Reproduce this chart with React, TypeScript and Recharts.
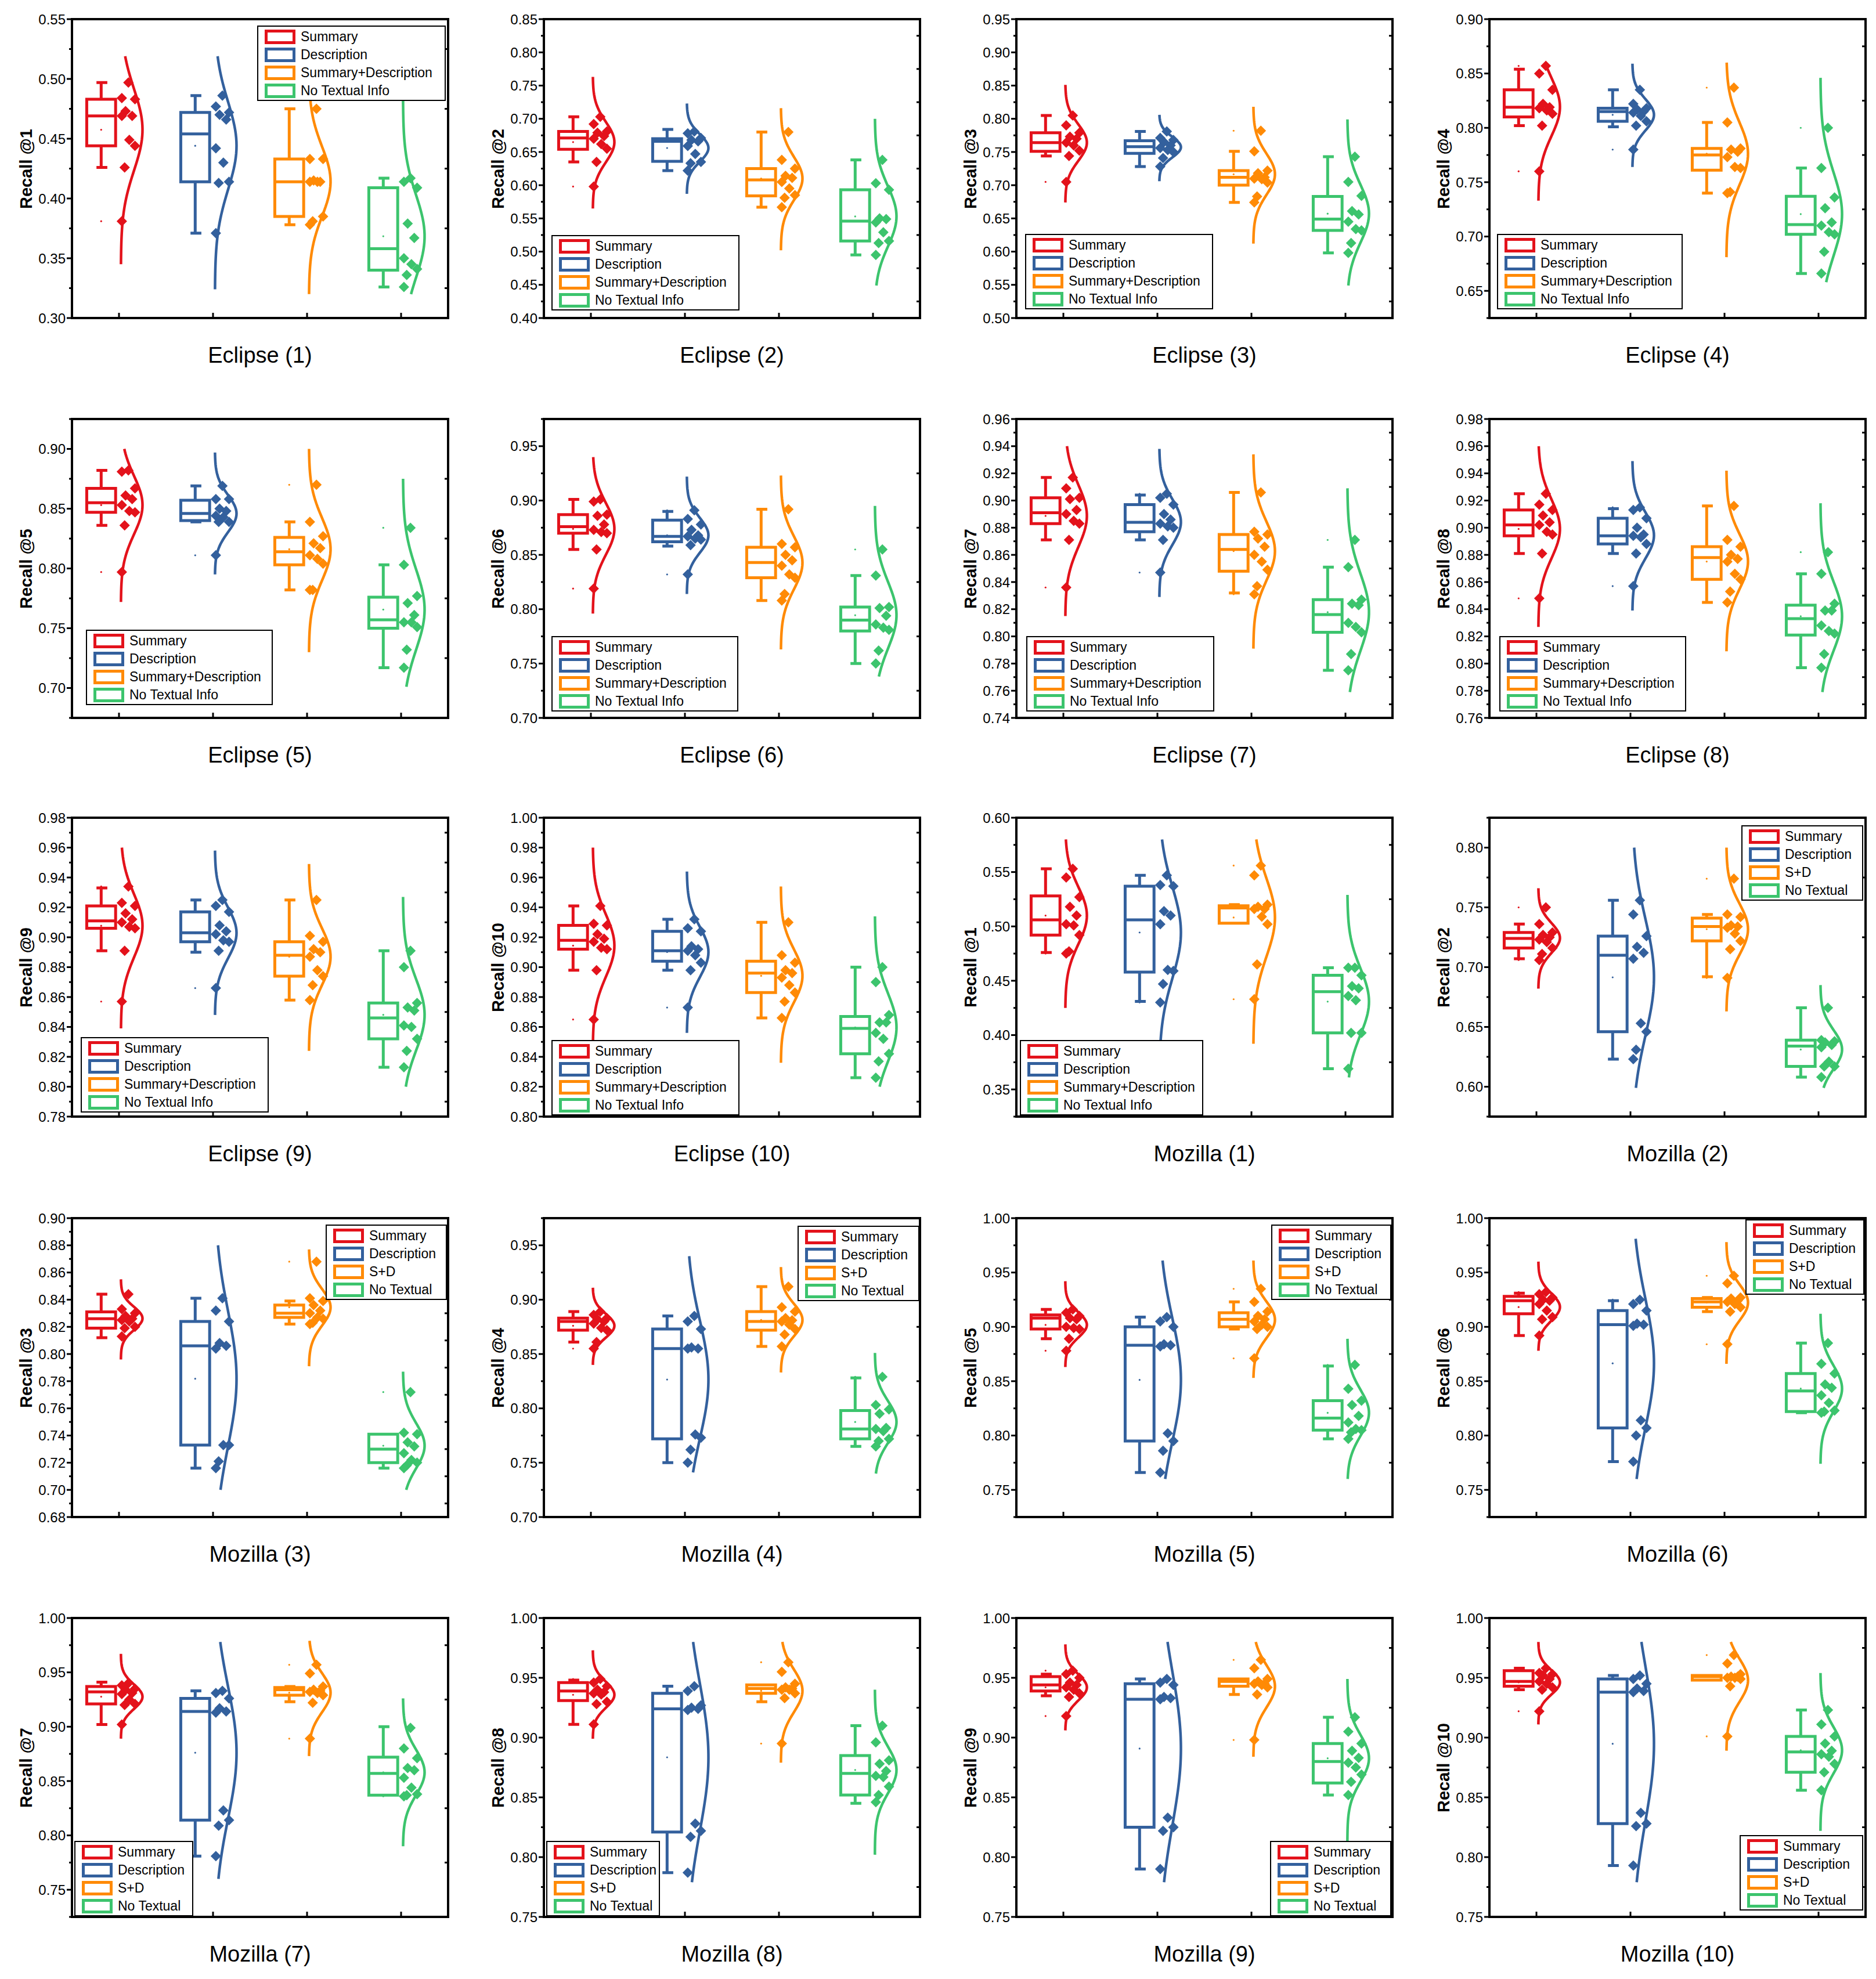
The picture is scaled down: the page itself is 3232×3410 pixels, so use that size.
import React from "react";
import { ComposedChart, Line, Scatter, XAxis, YAxis, ReferenceArea } from "recharts";

if (typeof document !== "undefined") document.body.style.margin = "0";

const FONT = '"Liberation Sans", Arial, sans-serif';
const COLORS = ["#E3121B", "#33609D", "#FF8A05", "#3CC46D"];
const NAMES_LONG = ["Summary", "Description", "Summary+Description", "No Textual Info"];
const NAMES_SHORT = ["Summary", "Description", "S+D", "No Textual"];
const CATEGORIES = [1, 2, 3, 4];

// box = [whisker low, q1, median, q3, whisker high] for Summary, Description, S+D, No Textual
// pts = the ten runs of each group, curve = [low, high] extent of the fitted distribution curve

const boxE1 = [[0.426, 0.444, 0.469, 0.483, 0.497], [0.371, 0.414, 0.454, 0.472, 0.486], [0.378, 0.385, 0.414, 0.433, 0.475], [0.326, 0.34, 0.358, 0.409, 0.417]];
const ptsE1 = [
  [0.497, 0.484, 0.483, 0.473, 0.469, 0.469, 0.449, 0.444, 0.426, 0.381],
  [0.486, 0.477, 0.472, 0.47, 0.466, 0.442, 0.43, 0.414, 0.413, 0.371],
  [0.475, 0.433, 0.433, 0.415, 0.414, 0.414, 0.414, 0.385, 0.381, 0.378],
  [0.417, 0.414, 0.409, 0.379, 0.367, 0.35, 0.345, 0.341, 0.336, 0.326],
];
const curveE1 = [[0.345, 0.519], [0.324, 0.519], [0.32, 0.52], [0.32, 0.52]];

const boxE2 = [[0.635, 0.654, 0.671, 0.681, 0.703], [0.622, 0.636, 0.666, 0.67, 0.684], [0.567, 0.584, 0.608, 0.625, 0.68], [0.495, 0.516, 0.546, 0.593, 0.638]];
const ptsE2 = [
  [0.703, 0.692, 0.681, 0.679, 0.674, 0.67, 0.662, 0.655, 0.635, 0.598],
  [0.681, 0.678, 0.671, 0.668, 0.666, 0.659, 0.647, 0.635, 0.633, 0.622],
  [0.68, 0.638, 0.625, 0.614, 0.611, 0.605, 0.595, 0.585, 0.581, 0.567],
  [0.638, 0.603, 0.593, 0.55, 0.549, 0.544, 0.529, 0.516, 0.513, 0.495],
];
const curveE2 = [[0.565, 0.763], [0.587, 0.723], [0.502, 0.716], [0.449, 0.7]];

const boxE3 = [[0.744, 0.751, 0.764, 0.779, 0.805], [0.728, 0.748, 0.758, 0.767, 0.781], [0.674, 0.7, 0.712, 0.722, 0.751], [0.598, 0.632, 0.649, 0.683, 0.743]];
const ptsE3 = [
  [0.805, 0.79, 0.779, 0.773, 0.77, 0.764, 0.76, 0.752, 0.744, 0.705],
  [0.781, 0.771, 0.768, 0.765, 0.76, 0.756, 0.753, 0.75, 0.741, 0.728],
  [0.782, 0.751, 0.722, 0.718, 0.712, 0.71, 0.709, 0.704, 0.683, 0.674],
  [0.743, 0.705, 0.684, 0.661, 0.656, 0.645, 0.634, 0.632, 0.613, 0.598],
];
const curveE3 = [[0.674, 0.851], [0.706, 0.806], [0.612, 0.818], [0.549, 0.799]];

const boxE4 = [[0.802, 0.81, 0.819, 0.835, 0.854], [0.801, 0.806, 0.815, 0.818, 0.835], [0.74, 0.761, 0.775, 0.781, 0.805], [0.666, 0.702, 0.711, 0.737, 0.763]];
const ptsE4 = [
  [0.857, 0.85, 0.835, 0.822, 0.819, 0.818, 0.816, 0.813, 0.802, 0.76],
  [0.835, 0.822, 0.818, 0.817, 0.815, 0.814, 0.811, 0.806, 0.802, 0.78],
  [0.837, 0.805, 0.781, 0.78, 0.778, 0.773, 0.764, 0.763, 0.741, 0.74],
  [0.8, 0.763, 0.736, 0.726, 0.713, 0.71, 0.704, 0.702, 0.686, 0.666],
];
const curveE4 = [[0.733, 0.86], [0.764, 0.859], [0.681, 0.86], [0.658, 0.846]];

const boxE5 = [[0.836, 0.847, 0.855, 0.867, 0.882], [0.839, 0.84, 0.846, 0.857, 0.869], [0.782, 0.803, 0.814, 0.826, 0.839], [0.717, 0.75, 0.757, 0.776, 0.803]];
const ptsE5 = [
  [0.882, 0.881, 0.867, 0.861, 0.858, 0.853, 0.848, 0.847, 0.836, 0.797],
  [0.869, 0.858, 0.858, 0.85, 0.848, 0.844, 0.843, 0.839, 0.839, 0.811],
  [0.87, 0.839, 0.827, 0.821, 0.817, 0.811, 0.808, 0.804, 0.782, 0.782],
  [0.834, 0.803, 0.777, 0.771, 0.761, 0.755, 0.755, 0.751, 0.732, 0.717],
];
const curveE5 = [[0.772, 0.9], [0.795, 0.897], [0.73, 0.9], [0.701, 0.875]];

const boxE6 = [[0.855, 0.87, 0.876, 0.887, 0.901], [0.858, 0.862, 0.867, 0.882, 0.89], [0.808, 0.829, 0.843, 0.857, 0.892], [0.75, 0.78, 0.79, 0.802, 0.831]];
const ptsE6 = [
  [0.901, 0.899, 0.887, 0.886, 0.878, 0.873, 0.871, 0.87, 0.855, 0.819],
  [0.891, 0.883, 0.878, 0.873, 0.868, 0.867, 0.865, 0.864, 0.859, 0.832],
  [0.892, 0.86, 0.857, 0.85, 0.845, 0.84, 0.832, 0.829, 0.814, 0.808],
  [0.855, 0.831, 0.802, 0.801, 0.794, 0.786, 0.783, 0.781, 0.762, 0.75],
];
const curveE6 = [[0.796, 0.94], [0.814, 0.922], [0.763, 0.923], [0.738, 0.895]];

const boxE7 = [[0.871, 0.883, 0.891, 0.902, 0.917], [0.871, 0.877, 0.884, 0.897, 0.904], [0.832, 0.848, 0.864, 0.875, 0.906], [0.775, 0.803, 0.816, 0.827, 0.851]];
const ptsE7 = [
  [0.917, 0.909, 0.902, 0.901, 0.893, 0.89, 0.885, 0.883, 0.871, 0.836],
  [0.905, 0.902, 0.897, 0.89, 0.886, 0.883, 0.881, 0.88, 0.871, 0.847],
  [0.906, 0.877, 0.875, 0.872, 0.866, 0.86, 0.855, 0.849, 0.837, 0.831],
  [0.871, 0.851, 0.827, 0.824, 0.823, 0.81, 0.807, 0.803, 0.787, 0.775],
];
const curveE7 = [[0.815, 0.94], [0.829, 0.938], [0.791, 0.934], [0.759, 0.909]];

const boxE8 = [[0.881, 0.894, 0.902, 0.913, 0.925], [0.881, 0.888, 0.894, 0.907, 0.914], [0.845, 0.862, 0.878, 0.886, 0.916], [0.797, 0.821, 0.833, 0.843, 0.866]];
const ptsE8 = [
  [0.925, 0.917, 0.913, 0.909, 0.904, 0.902, 0.897, 0.895, 0.881, 0.848],
  [0.915, 0.913, 0.907, 0.9, 0.895, 0.894, 0.893, 0.888, 0.881, 0.857],
  [0.916, 0.891, 0.886, 0.88, 0.877, 0.875, 0.866, 0.862, 0.853, 0.845],
  [0.882, 0.866, 0.844, 0.839, 0.839, 0.828, 0.824, 0.822, 0.807, 0.797],
];
const curveE8 = [[0.827, 0.96], [0.839, 0.949], [0.809, 0.942], [0.779, 0.918]];

const boxE9 = [[0.891, 0.906, 0.911, 0.921, 0.933], [0.89, 0.897, 0.903, 0.917, 0.925], [0.858, 0.874, 0.888, 0.897, 0.925], [0.813, 0.832, 0.846, 0.856, 0.891]];
const ptsE9 = [
  [0.934, 0.923, 0.921, 0.916, 0.912, 0.91, 0.907, 0.906, 0.891, 0.857],
  [0.925, 0.921, 0.917, 0.908, 0.904, 0.902, 0.898, 0.897, 0.891, 0.866],
  [0.925, 0.901, 0.897, 0.892, 0.89, 0.887, 0.878, 0.874, 0.868, 0.858],
  [0.891, 0.88, 0.856, 0.853, 0.851, 0.841, 0.84, 0.832, 0.824, 0.813],
];
const curveE9 = [[0.839, 0.96], [0.848, 0.958], [0.824, 0.949], [0.8, 0.927]];

const boxE10 = [[0.898, 0.912, 0.918, 0.928, 0.941], [0.898, 0.904, 0.911, 0.924, 0.932], [0.866, 0.883, 0.896, 0.904, 0.93], [0.826, 0.842, 0.859, 0.867, 0.9]];
const ptsE10 = [
  [0.941, 0.929, 0.928, 0.922, 0.919, 0.917, 0.913, 0.912, 0.898, 0.865],
  [0.932, 0.926, 0.924, 0.914, 0.912, 0.911, 0.908, 0.903, 0.898, 0.873],
  [0.93, 0.908, 0.903, 0.898, 0.896, 0.893, 0.888, 0.883, 0.877, 0.866],
  [0.9, 0.89, 0.868, 0.863, 0.863, 0.856, 0.852, 0.842, 0.837, 0.826],
];
const curveE10 = [[0.845, 0.98], [0.856, 0.964], [0.836, 0.954], [0.82, 0.934]];

const boxM1 = [[0.476, 0.492, 0.506, 0.528, 0.553], [0.431, 0.458, 0.506, 0.537, 0.547], [0.503, 0.503, 0.517, 0.519, 0.52], [0.369, 0.402, 0.44, 0.455, 0.462]];
const ptsM1 = [
  [0.553, 0.545, 0.527, 0.518, 0.51, 0.502, 0.501, 0.492, 0.477, 0.475],
  [0.547, 0.538, 0.537, 0.514, 0.51, 0.502, 0.46, 0.459, 0.447, 0.43],
  [0.556, 0.547, 0.52, 0.518, 0.516, 0.516, 0.509, 0.502, 0.465, 0.433],
  [0.462, 0.462, 0.455, 0.445, 0.443, 0.436, 0.432, 0.402, 0.402, 0.369],
];
const curveM1 = [[0.425, 0.58], [0.39, 0.58], [0.392, 0.58], [0.361, 0.529]];

const boxM2 = [[0.707, 0.716, 0.724, 0.729, 0.736], [0.623, 0.646, 0.71, 0.726, 0.756], [0.692, 0.722, 0.734, 0.741, 0.744], [0.608, 0.617, 0.634, 0.639, 0.666]];
const ptsM2 = [
  [0.75, 0.736, 0.729, 0.727, 0.725, 0.723, 0.721, 0.716, 0.711, 0.706],
  [0.756, 0.744, 0.726, 0.717, 0.712, 0.707, 0.653, 0.646, 0.631, 0.623],
  [0.774, 0.744, 0.742, 0.735, 0.734, 0.733, 0.728, 0.722, 0.715, 0.691],
  [0.666, 0.639, 0.638, 0.637, 0.635, 0.633, 0.621, 0.617, 0.617, 0.608],
];
const curveM2 = [[0.682, 0.766], [0.599, 0.8], [0.663, 0.8], [0.599, 0.685]];

const boxM3 = [[0.812, 0.819, 0.826, 0.831, 0.844], [0.716, 0.733, 0.806, 0.824, 0.841], [0.822, 0.827, 0.83, 0.836, 0.839], [0.716, 0.72, 0.73, 0.741, 0.741]];
const ptsM3 = [
  [0.844, 0.833, 0.83, 0.828, 0.826, 0.825, 0.824, 0.82, 0.819, 0.813],
  [0.841, 0.832, 0.824, 0.808, 0.806, 0.804, 0.733, 0.733, 0.721, 0.716],
  [0.868, 0.841, 0.839, 0.836, 0.832, 0.83, 0.827, 0.826, 0.823, 0.822],
  [0.772, 0.742, 0.741, 0.735, 0.732, 0.727, 0.722, 0.72, 0.718, 0.716],
];
const curveM3 = [[0.796, 0.855], [0.7, 0.88], [0.791, 0.877], [0.7, 0.787]];

const boxM4 = [[0.861, 0.872, 0.88, 0.883, 0.889], [0.75, 0.772, 0.855, 0.873, 0.885], [0.857, 0.872, 0.88, 0.889, 0.912], [0.765, 0.772, 0.781, 0.798, 0.828]];
const ptsM4 = [
  [0.889, 0.886, 0.883, 0.882, 0.88, 0.878, 0.874, 0.872, 0.861, 0.855],
  [0.885, 0.88, 0.873, 0.856, 0.855, 0.855, 0.776, 0.773, 0.762, 0.75],
  [0.912, 0.893, 0.889, 0.883, 0.881, 0.88, 0.877, 0.873, 0.868, 0.857],
  [0.829, 0.803, 0.799, 0.795, 0.782, 0.781, 0.779, 0.772, 0.77, 0.765],
];
const curveM4 = [[0.84, 0.911], [0.741, 0.94], [0.833, 0.93], [0.74, 0.851]];

const boxM5 = [[0.889, 0.898, 0.908, 0.911, 0.916], [0.766, 0.795, 0.883, 0.9, 0.909], [0.898, 0.9, 0.907, 0.913, 0.923], [0.797, 0.805, 0.816, 0.832, 0.864]];
const ptsM5 = [
  [0.916, 0.913, 0.91, 0.908, 0.907, 0.9, 0.899, 0.898, 0.889, 0.878],
  [0.909, 0.905, 0.9, 0.884, 0.883, 0.882, 0.802, 0.795, 0.786, 0.766],
  [0.935, 0.923, 0.914, 0.91, 0.907, 0.905, 0.902, 0.9, 0.898, 0.871],
  [0.865, 0.843, 0.832, 0.828, 0.818, 0.812, 0.806, 0.805, 0.803, 0.797],
];
const curveM5 = [[0.863, 0.942], [0.76, 0.961], [0.853, 0.961], [0.76, 0.889]];

const boxM6 = [[0.892, 0.912, 0.924, 0.928, 0.931], [0.776, 0.807, 0.902, 0.915, 0.924], [0.914, 0.918, 0.923, 0.926, 0.927], [0.821, 0.822, 0.841, 0.857, 0.885]];
const ptsM6 = [
  [0.932, 0.93, 0.927, 0.925, 0.924, 0.921, 0.915, 0.909, 0.907, 0.892],
  [0.925, 0.921, 0.915, 0.903, 0.902, 0.901, 0.814, 0.807, 0.8, 0.776],
  [0.947, 0.94, 0.927, 0.926, 0.924, 0.923, 0.921, 0.918, 0.914, 0.884],
  [0.885, 0.866, 0.857, 0.847, 0.844, 0.837, 0.83, 0.823, 0.822, 0.821],
];
const curveM6 = [[0.878, 0.96], [0.76, 0.981], [0.866, 0.978], [0.774, 0.912]];

const boxM7 = [[0.902, 0.921, 0.932, 0.937, 0.941], [0.781, 0.814, 0.914, 0.926, 0.933], [0.923, 0.929, 0.934, 0.936, 0.937], [0.837, 0.837, 0.857, 0.872, 0.9]];
const ptsM7 = [
  [0.94, 0.938, 0.935, 0.934, 0.931, 0.93, 0.925, 0.921, 0.92, 0.902],
  [0.933, 0.931, 0.926, 0.917, 0.914, 0.913, 0.823, 0.814, 0.809, 0.781],
  [0.957, 0.949, 0.937, 0.934, 0.933, 0.932, 0.931, 0.929, 0.922, 0.889],
  [0.899, 0.88, 0.871, 0.862, 0.86, 0.853, 0.844, 0.838, 0.837, 0.836],
];
const curveM7 = [[0.889, 0.967], [0.76, 0.978], [0.873, 0.979], [0.79, 0.926]];

const boxM8 = [[0.911, 0.931, 0.939, 0.946, 0.948], [0.787, 0.821, 0.924, 0.937, 0.943], [0.93, 0.937, 0.941, 0.944, 0.944], [0.845, 0.852, 0.87, 0.885, 0.91]];
const ptsM8 = [
  [0.949, 0.946, 0.943, 0.94, 0.938, 0.937, 0.936, 0.93, 0.928, 0.911],
  [0.943, 0.939, 0.927, 0.925, 0.924, 0.923, 0.828, 0.822, 0.817, 0.787],
  [0.963, 0.955, 0.945, 0.942, 0.941, 0.94, 0.94, 0.937, 0.933, 0.895],
  [0.91, 0.896, 0.881, 0.878, 0.872, 0.868, 0.867, 0.859, 0.852, 0.846],
];
const curveM8 = [[0.899, 0.973], [0.779, 0.98], [0.879, 0.98], [0.802, 0.94]];

const boxM9 = [[0.935, 0.939, 0.944, 0.951, 0.953], [0.79, 0.825, 0.932, 0.945, 0.949], [0.936, 0.943, 0.947, 0.949, 0.949], [0.852, 0.862, 0.88, 0.895, 0.917]];
const ptsM9 = [
  [0.956, 0.953, 0.95, 0.946, 0.944, 0.942, 0.94, 0.937, 0.934, 0.918],
  [0.949, 0.946, 0.944, 0.934, 0.933, 0.932, 0.833, 0.825, 0.822, 0.79],
  [0.965, 0.958, 0.949, 0.947, 0.945, 0.945, 0.944, 0.942, 0.936, 0.898],
  [0.917, 0.905, 0.895, 0.889, 0.883, 0.879, 0.875, 0.869, 0.863, 0.852],
];
const curveM9 = [[0.906, 0.978], [0.779, 0.98], [0.884, 0.98], [0.8, 0.949]];

const boxM10 = [[0.94, 0.943, 0.947, 0.956, 0.958], [0.793, 0.828, 0.938, 0.949, 0.952], [0.948, 0.948, 0.951, 0.952, 0.952], [0.856, 0.871, 0.888, 0.901, 0.923]];
const ptsM10 = [
  [0.958, 0.954, 0.953, 0.952, 0.949, 0.947, 0.945, 0.942, 0.94, 0.922],
  [0.952, 0.949, 0.945, 0.941, 0.939, 0.938, 0.837, 0.828, 0.826, 0.793],
  [0.969, 0.962, 0.953, 0.951, 0.951, 0.95, 0.95, 0.949, 0.943, 0.901],
  [0.923, 0.911, 0.901, 0.895, 0.889, 0.886, 0.884, 0.878, 0.871, 0.856],
];
const curveM10 = [[0.911, 0.98], [0.779, 0.98], [0.889, 0.98], [0.822, 0.954]];

type LegendSpec = { pos: "tr" | "bl" | "br"; gx: number; gy: number; short: boolean; w: number };
type PanelSpec = {
  title: string;
  yLabel: string;
  domain: [number, number];
  step: number;
  box: number[][];
  pts: number[][];
  curve: number[][];
  legend: LegendSpec;
};

const panels: PanelSpec[] = [
  { title: "Eclipse (1)", yLabel: "Recall @1", domain: [0.3, 0.55], step: 0.05, box: boxE1, pts: ptsE1, curve: curveE1, legend: { pos: "tr", gx: 4, gy: 11, short: false, w: 325 } },
  { title: "Eclipse (2)", yLabel: "Recall @2", domain: [0.4, 0.85], step: 0.05, box: boxE2, pts: ptsE2, curve: curveE2, legend: { pos: "bl", gx: 13, gy: 13, short: false, w: 324 } },
  { title: "Eclipse (3)", yLabel: "Recall @3", domain: [0.5, 0.95], step: 0.05, box: boxE3, pts: ptsE3, curve: curveE3, legend: { pos: "bl", gx: 15, gy: 15, short: false, w: 324 } },
  { title: "Eclipse (4)", yLabel: "Recall @4", domain: [0.625, 0.9], step: 0.05, box: boxE4, pts: ptsE4, curve: curveE4, legend: { pos: "bl", gx: 13, gy: 15, short: false, w: 320 } },
  { title: "Eclipse (5)", yLabel: "Recall @5", domain: [0.675, 0.925], step: 0.05, box: boxE5, pts: ptsE5, curve: curveE5, legend: { pos: "bl", gx: 24, gy: 22, short: false, w: 322 } },
  { title: "Eclipse (6)", yLabel: "Recall @6", domain: [0.7, 0.975], step: 0.05, box: boxE6, pts: ptsE6, curve: curveE6, legend: { pos: "bl", gx: 13, gy: 11, short: false, w: 322 } },
  { title: "Eclipse (7)", yLabel: "Recall @7", domain: [0.74, 0.96], step: 0.02, box: boxE7, pts: ptsE7, curve: curveE7, legend: { pos: "bl", gx: 17, gy: 11, short: false, w: 324 } },
  { title: "Eclipse (8)", yLabel: "Recall @8", domain: [0.76, 0.98], step: 0.02, box: boxE8, pts: ptsE8, curve: curveE8, legend: { pos: "bl", gx: 17, gy: 11, short: false, w: 322 } },
  { title: "Eclipse (9)", yLabel: "Recall @9", domain: [0.78, 0.98], step: 0.02, box: boxE9, pts: ptsE9, curve: curveE9, legend: { pos: "bl", gx: 15, gy: 7, short: false, w: 324 } },
  { title: "Eclipse (10)", yLabel: "Recall @10", domain: [0.8, 1.0], step: 0.02, box: boxE10, pts: ptsE10, curve: curveE10, legend: { pos: "bl", gx: 13, gy: 2, short: false, w: 324 } },
  { title: "Mozilla (1)", yLabel: "Recall @1", domain: [0.325, 0.6], step: 0.05, box: boxM1, pts: ptsM1, curve: curveM1, legend: { pos: "bl", gx: 6, gy: 2, short: false, w: 316 } },
  { title: "Mozilla (2)", yLabel: "Recall @2", domain: [0.575, 0.825], step: 0.05, box: boxM2, pts: ptsM2, curve: curveM2, legend: { pos: "tr", gx: 4, gy: 13, short: true, w: 210 } },
  { title: "Mozilla (3)", yLabel: "Recall @3", domain: [0.68, 0.9], step: 0.02, box: boxM3, pts: ptsM3, curve: curveM3, legend: { pos: "tr", gx: 2, gy: 11, short: true, w: 209 } },
  { title: "Mozilla (4)", yLabel: "Recall @4", domain: [0.7, 0.975], step: 0.05, box: boxM4, pts: ptsM4, curve: curveM4, legend: { pos: "tr", gx: 1, gy: 13, short: true, w: 210 } },
  { title: "Mozilla (5)", yLabel: "Recall @5", domain: [0.725, 1.0], step: 0.05, box: boxM5, pts: ptsM5, curve: curveM5, legend: { pos: "tr", gx: 2, gy: 11, short: true, w: 207 } },
  { title: "Mozilla (6)", yLabel: "Recall @6", domain: [0.725, 1.0], step: 0.05, box: boxM6, pts: ptsM6, curve: curveM6, legend: { pos: "tr", gx: 2, gy: 2, short: true, w: 205 } },
  { title: "Mozilla (7)", yLabel: "Recall @7", domain: [0.725, 1.0], step: 0.05, box: boxM7, pts: ptsM7, curve: curveM7, legend: { pos: "bl", gx: 4, gy: 1, short: true, w: 205 } },
  { title: "Mozilla (8)", yLabel: "Recall @8", domain: [0.75, 1.0], step: 0.05, box: boxM8, pts: ptsM8, curve: curveM8, legend: { pos: "bl", gx: 4, gy: 1, short: true, w: 196 } },
  { title: "Mozilla (9)", yLabel: "Recall @9", domain: [0.75, 1.0], step: 0.05, box: boxM9, pts: ptsM9, curve: curveM9, legend: { pos: "br", gx: 2, gy: 1, short: true, w: 209 } },
  { title: "Mozilla (10)", yLabel: "Recall @10", domain: [0.75, 1.0], step: 0.05, box: boxM10, pts: ptsM10, curve: curveM10, legend: { pos: "br", gx: 4, gy: 11, short: true, w: 213 } },
];

// layout
const COL_LEFT = [124, 937, 1751, 2566];
const ROW_TOP = [33, 722, 1409, 2099, 2788];
const CHART_W = 814;
const CHART_H = 690;
const PLOT_L = 124;
const PLOT_T = 33;
const PLOT_W = 648;
const PLOT_H = 515;
const Y_AXIS_W = 80;
const LEGEND_H = 130;

const BOX_LEFT = -0.343;
const BOX_RIGHT = -0.036;
const CAP = 0.05;
const CURVE_BASE = 0.02;
const CURVE_AMP = 0.23;
const JITTER = [0.1, 0.03, 0.17, 0.07, 0.14, 0.03, 0.11, 0.17, 0.06, 0.03];

const isMajor = (v: number, step: number) => Math.abs(v / step - Math.round(v / step)) < 1e-6;

function makeTicks(domain: [number, number], step: number) {
  const minor = step / 2;
  const n = Math.round((domain[1] - domain[0]) / minor);
  return Array.from({ length: n + 1 }, (_, k) => +(domain[0] + k * minor).toFixed(4));
}

function boxLine(c: number, b: number[]) {
  const [wLo, q1, med, q3, wHi] = b;
  const x0 = c + BOX_LEFT;
  const x1 = c + BOX_RIGHT;
  const xc = (x0 + x1) / 2;
  return [
    { x: x0, y: q1 }, { x: x0, y: q3 }, { x: x1, y: q3 }, { x: x1, y: q1 }, { x: x0, y: q1 },
    { x: x0, y: null },
    { x: x0, y: med }, { x: x1, y: med },
    { x: x1, y: null },
    { x: xc, y: q3 }, { x: xc, y: wHi }, { x: xc - CAP, y: wHi }, { x: xc + CAP, y: wHi },
    { x: xc, y: null },
    { x: xc, y: q1 }, { x: xc, y: wLo }, { x: xc - CAP, y: wLo }, { x: xc + CAP, y: wLo },
  ];
}

function stats(vals: number[]) {
  const n = vals.length;
  const mu = vals.reduce((a, v) => a + v, 0) / n;
  const sd = Math.sqrt(vals.reduce((a, v) => a + (v - mu) * (v - mu), 0) / (n - 1));
  return { mu, sd };
}

function curveLine(c: number, vals: number[], range: number[]) {
  const { mu, sd } = stats(vals);
  const [lo, hi] = range;
  const out: { x: number; y: number }[] = [];
  const steps = 60;
  for (let k = 0; k <= steps; k++) {
    const y = lo + ((hi - lo) * k) / steps;
    const z = (y - mu) / sd;
    out.push({ x: c + CURVE_BASE + CURVE_AMP * Math.exp(-0.5 * z * z), y });
  }
  return out;
}

function pointData(c: number, vals: number[]) {
  return [...vals].sort((a, b) => b - a).map((v, i) => ({ x: c + JITTER[i % JITTER.length], y: v }));
}

function markerData(c: number, vals: number[]) {
  const xc = c + (BOX_LEFT + BOX_RIGHT) / 2;
  const { mu } = stats(vals);
  return [
    { x: xc, y: mu },
    { x: xc, y: Math.min(...vals) },
    { x: xc, y: Math.max(...vals) },
  ];
}

const Diamond = (color: string) => (props: any) => {
  const { cx, cy } = props;
  if (cx == null || cy == null) return <g />;
  const h = 9;
  return <polygon points={`${cx},${cy - h} ${cx + h},${cy} ${cx},${cy + h} ${cx - h},${cy}`} fill={color} />;
};

const TinyDot = (color: string) => (props: any) => {
  const { cx, cy } = props;
  if (cx == null || cy == null) return <g />;
  return <circle cx={cx} cy={cy} r={1.6} fill={color} />;
};

function Legend({ spec }: { spec: LegendSpec }) {
  const names = spec.short ? NAMES_SHORT : NAMES_LONG;
  const left = spec.pos === "bl" ? PLOT_L + spec.gx : PLOT_L + PLOT_W - spec.gx - spec.w;
  const top = spec.pos === "tr" ? PLOT_T + spec.gy : PLOT_T + PLOT_H - spec.gy - LEGEND_H;
  return (
    <div
      style={{
        position: "absolute",
        left,
        top,
        width: spec.w,
        height: LEGEND_H,
        border: "2px solid #000",
        background: "#fff",
        boxSizing: "border-box",
        fontFamily: FONT,
        fontSize: 23,
        color: "#000",
      }}
    >
      {names.map((n, i) => (
        <div key={n} style={{ position: "absolute", left: 11, top: 3 + i * 31.3, height: 28, display: "flex", alignItems: "center", whiteSpace: "nowrap" }}>
          <span style={{ display: "inline-block", width: 53, height: 25, border: `5px solid ${COLORS[i]}`, boxSizing: "border-box" }} />
          <span style={{ marginLeft: 9 }}>{n}</span>
        </div>
      ))}
    </div>
  );
}

function Panel({ p, left, top }: { p: PanelSpec; left: number; top: number }) {
  const ticks = makeTicks(p.domain, p.step);
  const leftTick = (props: any) => {
    const { x, y, payload } = props;
    const v = payload.value as number;
    const major = isMajor(v, p.step);
    return (
      <g>
        <line x1={x} x2={x - (major ? 9 : 5)} y1={y} y2={y} stroke="#000" strokeWidth={3} />
        {major && (
          <text x={x - 11} y={y} dy="0.36em" textAnchor="end" fontSize={24} fontFamily={FONT} fill="#000">
            {v.toFixed(2)}
          </text>
        )}
      </g>
    );
  };
  const rightTick = (props: any) => {
    const { x, y, payload } = props;
    if (isMajor(payload.value, p.step)) return <g />;
    return <line x1={x} x2={x - 6} y1={y} y2={y} stroke="#000" strokeWidth={3} />;
  };
  const bottomTick = (props: any) => {
    const { x, y } = props;
    return <line x1={x} x2={x} y1={y} y2={y - 9} stroke="#000" strokeWidth={3} />;
  };

  return (
    <div style={{ position: "absolute", left, top, width: CHART_W, height: CHART_H }}>
      <ComposedChart
        width={CHART_W}
        height={CHART_H}
        margin={{ top: PLOT_T, right: CHART_W - PLOT_L - PLOT_W - 1, bottom: CHART_H - PLOT_T - PLOT_H - 1, left: PLOT_L - Y_AXIS_W }}
      >
        <XAxis
          type="number"
          dataKey="x"
          domain={[0.5, 4.5]}
          ticks={CATEGORIES}
          interval={0}
          allowDataOverflow
          height={1}
          tickSize={0}
          tickMargin={0}
          axisLine={false}
          tickLine={false}
          tick={bottomTick}
        />
        <YAxis
          type="number"
          domain={p.domain}
          ticks={ticks}
          interval={0}
          allowDataOverflow
          width={Y_AXIS_W}
          tickSize={0}
          tickMargin={0}
          axisLine={false}
          tickLine={false}
          tick={leftTick}
        />
        <YAxis
          yAxisId="r"
          orientation="right"
          type="number"
          domain={p.domain}
          ticks={ticks}
          interval={0}
          allowDataOverflow
          width={1}
          tickSize={0}
          tickMargin={0}
          axisLine={false}
          tickLine={false}
          tick={rightTick}
        />
        <ReferenceArea x1={0.5} x2={4.5} y1={p.domain[0]} y2={p.domain[1]} fill="none" fillOpacity={0} stroke="#000" strokeWidth={4} />
        {CATEGORIES.map((c, i) => (
          <Line
            key={`box${c}`}
            data={boxLine(c, p.box[i])}
            dataKey="y"
            type="linear"
            stroke={COLORS[i]}
            strokeWidth={5}
            strokeLinecap="square"
            dot={false}
            activeDot={false}
            connectNulls={false}
            isAnimationActive={false}
          />
        ))}
        {CATEGORIES.map((c, i) => (
          <Line
            key={`curve${c}`}
            data={curveLine(c, p.pts[i], p.curve[i])}
            dataKey="y"
            type="linear"
            stroke={COLORS[i]}
            strokeWidth={4.5}
            dot={false}
            activeDot={false}
            isAnimationActive={false}
          />
        ))}
        {CATEGORIES.map((c, i) => (
          <Scatter key={`pts${c}`} data={pointData(c, p.pts[i])} dataKey="y" shape={Diamond(COLORS[i])} isAnimationActive={false} />
        ))}
        {CATEGORIES.map((c, i) => (
          <Scatter key={`mk${c}`} data={markerData(c, p.pts[i])} dataKey="y" shape={TinyDot(COLORS[i])} isAnimationActive={false} />
        ))}
      </ComposedChart>
      <div
        style={{
          position: "absolute",
          left: 44 - PLOT_H / 2,
          top: PLOT_T + PLOT_H / 2 - 18,
          width: PLOT_H,
          height: 36,
          lineHeight: "36px",
          textAlign: "center",
          transform: "rotate(-90deg)",
          fontFamily: FONT,
          fontWeight: "bold",
          fontSize: 29,
          color: "#000",
          whiteSpace: "nowrap",
        }}
      >
        {p.yLabel}
      </div>
      <div
        style={{
          position: "absolute",
          left: PLOT_L,
          top: 612 - 24,
          width: PLOT_W,
          height: 48,
          lineHeight: "48px",
          textAlign: "center",
          fontFamily: FONT,
          fontSize: 38,
          color: "#000",
        }}
      >
        {p.title}
      </div>
      <Legend spec={p.legend} />
    </div>
  );
}

export default function App() {
  return (
    <div style={{ position: "relative", width: 3232, height: 3410, background: "#fff", overflow: "hidden" }}>
      {panels.map((p, k) => {
        const r = Math.floor(k / 4);
        const c = k % 4;
        return <Panel key={p.title} p={p} left={COL_LEFT[c] - PLOT_L} top={ROW_TOP[r] - PLOT_T} />;
      })}
    </div>
  );
}
